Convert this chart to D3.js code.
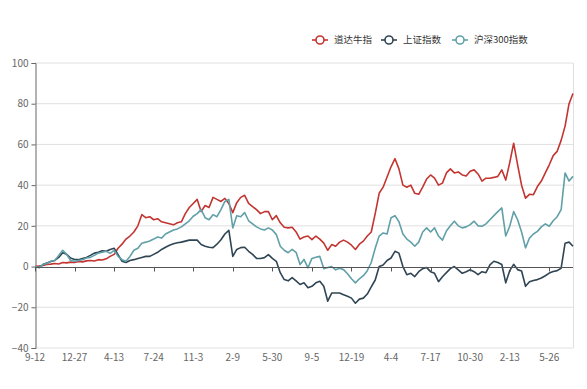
<!DOCTYPE html>
<head>
  <meta charset="utf-8">
  <script src="https://d3js.org/d3.v7.min.js"></script>
  <style>
    body { margin: 0; background: #fff; }
    text { font-family: "Noto Sans CJK SC", "Noto Sans", sans-serif; }
  </style>
</head>
<body>
<script>
// tick labels (one every 10 points on the category axis)
var tickLabels = ['9-12', '12-27', '4-13', '7-24', '11-3', '2-9', '5-30',
  '9-5', '12-19', '4-4', '7-17', '10-30', '2-13', '5-26'];
var tickEvery = 10;

var seriesNames = ['道达牛指', '上证指数', '沪深300指数'];
var seriesColors = ['#c23531', '#2f4554', '#61a0a8'];

// 道达牛指
var daoda = [0, 0.3, 0.5, 1, 1.2, 1.5, 1.3, 2, 1.8, 2.2,
  2, 2.5, 2.3, 2.8, 3, 2.7, 3.4, 3.2, 3.8, 5,
  6, 9, 11, 13.5, 15, 17, 20, 25.5, 24, 24.5,
  23, 23.5, 22, 21.5, 21, 20.5, 21.5, 22, 26, 29,
  31, 33, 27, 30, 29, 34, 33, 32, 33.5, 31,
  26.5, 31.4, 34, 35, 31, 29.5, 28, 26, 27, 27,
  23, 25, 21.5, 19.3, 19, 19.3, 17, 13.5, 14.5, 15,
  13.2, 15, 13.5, 11.5, 8, 10.8, 10, 12, 13, 12,
  10.5, 8.4, 11, 12.5, 15, 17, 26, 36, 39, 44,
  49, 53, 48, 40, 39, 40, 36, 35.5, 39, 43,
  45, 43.4, 40, 41, 46, 48, 46, 46.5, 45, 44.5,
  46.8, 47.5, 45.5, 42, 43.4, 43.4, 43.8, 44.3, 47.5, 42.5,
  51, 60.6, 50, 40, 33.6, 35.5, 35.3, 39.3, 42, 46,
  50, 54.5, 56.6, 62, 69, 80, 85];

// 上证指数
var shangzheng = [0, -0.5, 1, 1.8, 2.5, 3, 4.5, 6.8, 6, 4.2,
  3.5, 3.4, 4, 4.5, 5.5, 6.6, 7, 7.8, 7.5, 8.4,
  9, 5.8, 2.6, 2, 3, 3.4, 4, 4.5, 5, 5,
  6, 7, 8.4, 9.5, 10.5, 11.2, 11.7, 12, 12.5, 13,
  13, 13, 10.8, 10, 9.5, 9.3, 11, 13.2, 16, 17.8,
  5, 8.4, 9.3, 9.5, 7.5, 6, 4, 4, 4.4, 5.9,
  4, 2.6, -3, -6.4, -7, -5.4, -7, -8.8, -8, -10.4,
  -9.7, -8, -7.2, -9.7, -17, -13, -13, -13, -13.8, -14.6,
  -15.5, -18, -16, -15.5, -13.5, -10, -6.6, 0, 0.8, 3,
  4.2, 7.5, 6.6, 0, -4, -3.3, -4.9, -2.5, -1, -0.5,
  -2.5, -3.3, -7.4, -5, -3, -1, 0, -1.6, -3.3, -2.5,
  -1.6, -2.5, -4, -2.5, -3, 0.8, 2.6, 2, 1, -8,
  -2, 1.1, -1.5, -2.2, -9.7, -7.5, -6.8, -6.4, -5.6, -4.5,
  -3.2, -2.4, -2, -0.8, 11.5, 12, 10];

// 沪深300指数
var hs300 = [0, -0.5, 1, 1.5, 2.6, 3, 5.5, 8, 6, 3,
  2.6, 3, 3.4, 4.2, 4.5, 5.5, 6.6, 7, 7.5, 6.5,
  8, 5, 3.4, 2.6, 5, 8, 9, 11.5, 12, 12.6,
  13.5, 14.5, 14, 16, 17, 18, 18.5, 19.5, 21, 22.5,
  24.7, 26, 28, 24, 23, 25.5, 24.5, 28, 32, 33,
  19, 25, 24.5, 26.5, 22.5, 21, 19.5, 18.5, 18, 19,
  18, 15.7, 10, 8, 6.8, 8.5, 7, 1, 3.5, -0.6,
  4, 4.6, 5, -1, -0.5, 0, -1.6, -0.8, -1.5, -3.5,
  -6, -8, -6, -4.5, -2, 2, 9, 15, 16.5, 16,
  24, 25, 22, 16, 13.5, 12, 10, 12, 17, 19,
  17, 19, 15, 13, 17.5, 20, 22.3, 20, 19, 19.5,
  20.6, 22.3, 20, 19.8, 21, 23, 25, 27, 28.8, 15,
  19.8, 27, 23, 17, 9.2, 14, 16, 17.3, 19.5, 21,
  19.8, 22.5, 24.5, 28, 46, 42, 44.3];

var allSeries = [daoda, shangzheng, hs300];

var width = 587, height = 389;
var plot = { left: 35, right: 573, top: 63, bottom: 348 };

var svg = d3.select('body').append('svg')
  .attr('width', width)
  .attr('height', height);

var xScale = d3.scaleLinear()
  .domain([0, daoda.length - 1])
  .range([plot.left, plot.right]);

var yScale = d3.scaleLinear()
  .domain([-40, 100])
  .range([plot.bottom, plot.top]);

// horizontal grid lines
var yTicks = d3.range(-40, 101, 20);
svg.append('g').selectAll('line')
  .data(yTicks.filter(function(d) { return d !== 0; }))
  .enter().append('line')
  .attr('x1', plot.left).attr('x2', plot.right)
  .attr('y1', function(d) { return yScale(d); })
  .attr('y2', function(d) { return yScale(d); })
  .attr('stroke', '#e0e0e0')
  .attr('stroke-width', 1);

// right border of the grid
svg.append('line')
  .attr('x1', plot.right + 0.5).attr('x2', plot.right + 0.5)
  .attr('y1', plot.top).attr('y2', plot.bottom)
  .attr('stroke', '#e0e0e0');

// y axis
var yAxis = d3.axisLeft(yScale).tickValues(yTicks).tickSize(4).tickPadding(3);
var yAxisG = svg.append('g')
  .attr('transform', 'translate(' + (plot.left + 0.5) + ',0)')
  .call(yAxis);
yAxisG.select('.domain').attr('stroke', '#666');
yAxisG.selectAll('.tick line').attr('stroke', '#666');
yAxisG.selectAll('.tick text')
  .attr('fill', '#666')
  .style('font-size', '10px');

// lines
var line = d3.line()
  .x(function(d, i) { return xScale(i); })
  .y(function(d) { return yScale(d); });

allSeries.forEach(function(values, k) {
  svg.append('path')
    .datum(values)
    .attr('d', line)
    .attr('fill', 'none')
    .attr('stroke', seriesColors[k])
    .attr('stroke-width', 1.6)
    .attr('stroke-linejoin', 'round');
});

// x axis line sits on zero, labels sit at the bottom
var tickIdx = tickLabels.map(function(d, i) { return i * tickEvery; });
var zeroY = Math.round(yScale(0)) + 0.5;
svg.append('line')
  .attr('x1', plot.left).attr('x2', plot.right)
  .attr('y1', zeroY).attr('y2', zeroY)
  .attr('stroke', '#555');
svg.append('g').selectAll('line')
  .data(tickIdx)
  .enter().append('line')
  .attr('x1', function(d) { return Math.round(xScale(d)) + 0.5; })
  .attr('x2', function(d) { return Math.round(xScale(d)) + 0.5; })
  .attr('y1', zeroY).attr('y2', zeroY + 4)
  .attr('stroke', '#555');

svg.append('g').selectAll('text')
  .data(tickIdx)
  .enter().append('text')
  .attr('x', function(d) { return xScale(d); })
  .attr('y', plot.bottom + 13)
  .attr('text-anchor', 'middle')
  .attr('fill', '#666')
  .style('font-size', '10px')
  .text(function(d, i) { return tickLabels[i]; });

// legend
var legendX = [312, 381, 452];
var legend = svg.append('g');
seriesNames.forEach(function(name, k) {
  var g = legend.append('g').attr('transform', 'translate(' + legendX[k] + ',40)');
  g.append('line')
    .attr('x1', 0).attr('x2', 16)
    .attr('stroke', seriesColors[k])
    .attr('stroke-width', 1.6);
  g.append('circle')
    .attr('cx', 8).attr('r', 4)
    .attr('fill', '#fff')
    .attr('stroke', seriesColors[k])
    .attr('stroke-width', 1.6);
  g.append('text')
    .attr('x', 22)
    .attr('dy', '0.35em')
    .attr('fill', '#333')
    .style('font-size', '9.5px')
    .text(name);
});
</script>
</body>
